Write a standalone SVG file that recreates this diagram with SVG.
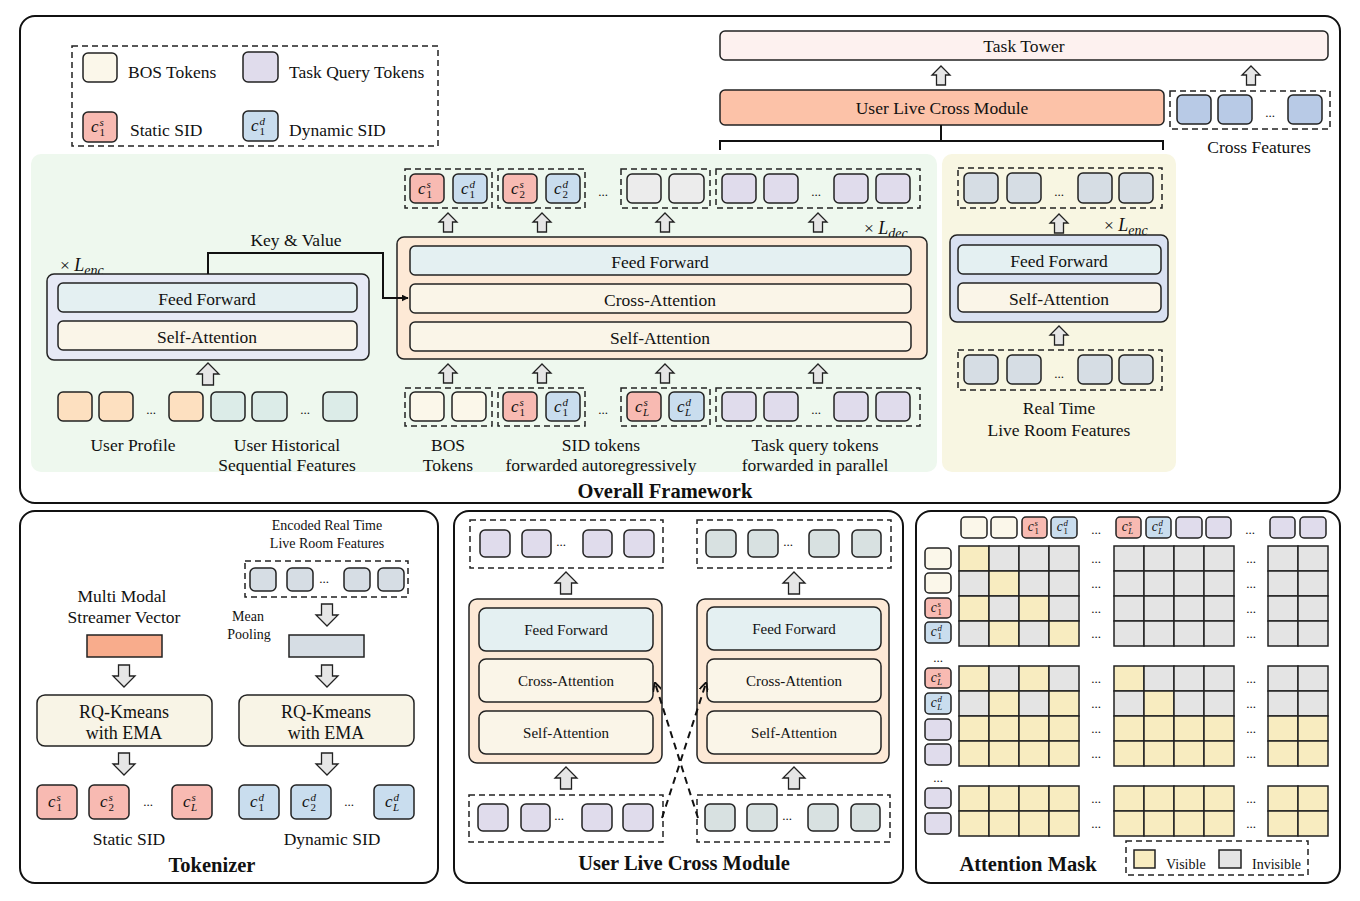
<svg xmlns="http://www.w3.org/2000/svg" xmlns:xlink="http://www.w3.org/1999/xlink" width="1360" height="901" viewBox="0 0 1360 901">
<style>
text{font-family:"Liberation Serif","Times New Roman",serif;fill:#111}
.t{font-size:17.5px}
.tc{font-size:17.5px;text-anchor:middle}
.s15{font-size:15px;text-anchor:middle}
.s14{font-size:14px;text-anchor:middle}
.s18{font-size:18px;text-anchor:middle}
.title{font-size:20.5px;font-weight:bold;text-anchor:middle}
.dots{font-size:13px;text-anchor:middle}
.mi{font-size:17px;font-style:italic}
.ms{font-size:11px;font-style:italic}
.mn{font-size:11px}
.frame{fill:#fff;stroke:#111;stroke-width:2}
.box{stroke:#222;stroke-width:1.5}
.tok{stroke:#222;stroke-width:1.5}
.dash{fill:none;stroke:#222;stroke-width:1.5;stroke-dasharray:6 4}
.ar{fill:#e6e6e6;stroke:#222;stroke-width:1.3}
.bos{fill:#fbf7ea}.tq{fill:#e0dcec}.ss{fill:#f8bab2}.ds{fill:#c9ddee}.gr{fill:#ececec}
.pro{fill:#fde0c0}.hist{fill:#dcece8}.live{fill:#d6dde4}.cf{fill:#b8cae6}.ulr{fill:#d8e1e1}
.ff{fill:#e4f0f2}.at{fill:#faf5e8}
.v{fill:#f8ecc0;stroke:#222;stroke-width:1.5}
.g{fill:#e4e4e4;stroke:#222;stroke-width:1.5}
.ln{fill:none;stroke:#111;stroke-width:2}
.dl{fill:none;stroke:#111;stroke-width:2;stroke-dasharray:7 5}
</style>
<defs>
<path id="ua" class="ar" d="M0,0 L9,9 L4.5,9 L4.5,19 L-4.5,19 L-4.5,9 L-9,9 Z"/>
<path id="ub" class="ar" d="M0,0 L11,11 L5.5,11 L5.5,22 L-5.5,22 L-5.5,11 L-11,11 Z"/>
<path id="db" class="ar" d="M-5.5,0 L5.5,0 L5.5,11 L11,11 L0,22 L-11,11 L-5.5,11 Z"/>
<g id="m1s"><text class="mi" x="-9" y="5">c</text><text class="ms" x="-0.5" y="-1.5">s</text><text class="mn" x="-0.5" y="8.5">1</text></g>
<g id="m1d"><text class="mi" x="-9" y="5">c</text><text class="ms" x="-0.5" y="-1.5">d</text><text class="mn" x="-0.5" y="8.5">1</text></g>
<g id="m2s"><text class="mi" x="-9" y="5">c</text><text class="ms" x="-0.5" y="-1.5">s</text><text class="mn" x="-0.5" y="8.5">2</text></g>
<g id="m2d"><text class="mi" x="-9" y="5">c</text><text class="ms" x="-0.5" y="-1.5">d</text><text class="mn" x="-0.5" y="8.5">2</text></g>
<g id="mLs"><text class="mi" x="-9" y="5">c</text><text class="ms" x="-0.5" y="-1.5">s</text><text class="ms" x="-1" y="8.5">L</text></g>
<g id="mLd"><text class="mi" x="-9" y="5">c</text><text class="ms" x="-0.5" y="-1.5">d</text><text class="ms" x="-1" y="8.5">L</text></g>
<marker id="ah" viewBox="0 0 10 10" refX="9" refY="5" markerWidth="7" markerHeight="7" orient="auto" markerUnits="userSpaceOnUse"><path d="M0,0 L10,5 L0,10 Z" fill="#111"/></marker>
<marker id="ah2" viewBox="0 0 10 10" refX="9" refY="5" markerWidth="9" markerHeight="9" orient="auto" markerUnits="userSpaceOnUse"><path d="M0,0 L10,5 L0,10" fill="none" stroke="#111" stroke-width="2"/></marker>
</defs>

<!-- ===================== OVERALL FRAMEWORK ===================== -->
<g id="overall-frame">
<rect class="frame" x="20" y="16" width="1320" height="487" rx="15"/>
<rect x="31" y="154" width="906" height="318" rx="10" fill="#eef8ee"/>
<rect x="942" y="154" width="234" height="318" rx="10" fill="#f8f6e2"/>
<text class="title" x="665" y="498">Overall Framework</text>
</g>

<g id="legend">
<rect class="dash" x="72" y="46" width="366" height="100"/>
<rect class="tok bos" x="83" y="53" width="34" height="29" rx="5"/>
<text class="t" x="128" y="78">BOS Tokens</text>
<rect class="tok tq" x="243" y="52" width="35" height="30" rx="5"/>
<text class="t" x="289" y="78">Task Query Tokens</text>
<rect class="tok ss" x="83" y="112" width="34" height="30" rx="5"/>
<use xlink:href="#m1s" href="#m1s" x="100" y="127"/>
<text class="t" x="130" y="136">Static SID</text>
<rect class="tok ds" x="243" y="111" width="35" height="30" rx="5"/>
<use xlink:href="#m1d" href="#m1d" x="260" y="126"/>
<text class="t" x="289" y="136">Dynamic SID</text>
</g>

<g id="task-tower">
<rect class="box" x="720" y="31" width="608" height="29" rx="5" fill="#fdf1ef"/>
<text class="tc" x="1024" y="52">Task Tower</text>
</g>

<g id="ulcm-top">
<rect class="box" x="720" y="90" width="444" height="35" rx="5" fill="#fcc2a8"/>
<text class="tc" x="942" y="114">User Live Cross Module</text>
</g>

<g id="cross-features">
<rect class="dash" x="1170" y="91" width="160" height="38"/>
<rect class="tok cf" x="1177" y="95" width="34" height="29" rx="5"/>
<rect class="tok cf" x="1218" y="95" width="34" height="29" rx="5"/>
<text class="dots" x="1270" y="117">...</text>
<rect class="tok cf" x="1288" y="95" width="34" height="29" rx="5"/>
<text class="tc" x="1259" y="153">Cross Features</text>
</g>

<g id="encoder-user">
<text class="t" x="60" y="271">× <tspan font-style="italic" font-size="18">L</tspan><tspan font-style="italic" font-size="14" dy="4">enc</tspan></text>
<rect class="box" x="47" y="274" width="322" height="86" rx="7" fill="#e6e9f5"/>
<rect class="box ff" x="58" y="283" width="299" height="29" rx="5"/>
<text class="tc" x="207" y="305">Feed Forward</text>
<rect class="box at" x="58" y="321" width="299" height="29" rx="5"/>
<text class="tc" x="207" y="343">Self-Attention</text>
</g>

<g id="user-inputs">
<rect class="tok pro" x="58" y="392" width="34" height="29" rx="5"/>
<rect class="tok pro" x="99" y="392" width="34" height="29" rx="5"/>
<text class="dots" x="151" y="414">...</text>
<rect class="tok pro" x="169" y="392" width="34" height="29" rx="5"/>
<rect class="tok hist" x="211" y="392" width="34" height="29" rx="5"/>
<rect class="tok hist" x="252" y="392" width="35" height="29" rx="5"/>
<text class="dots" x="305" y="414">...</text>
<rect class="tok hist" x="323" y="392" width="34" height="29" rx="5"/>
<text class="tc" x="133" y="451">User Profile</text>
<text class="tc" x="287" y="451">User Historical</text>
<text class="tc" x="287" y="471">Sequential Features</text>
</g>

<g id="decoder">
<text class="t" x="864" y="234">× <tspan font-style="italic" font-size="18">L</tspan><tspan font-style="italic" font-size="14" dy="4">dec</tspan></text>
<rect class="box" x="397" y="237" width="530" height="122" rx="7" fill="#fde9d6"/>
<rect class="box ff" x="410" y="246" width="501" height="29" rx="5"/>
<text class="tc" x="660" y="268">Feed Forward</text>
<rect class="box at" x="410" y="284" width="501" height="29" rx="5"/>
<text class="tc" x="660" y="306">Cross-Attention</text>
<rect class="box at" x="410" y="322" width="501" height="29" rx="5"/>
<text class="tc" x="660" y="344">Self-Attention</text>
</g>

<g id="decoder-outputs">
<rect class="dash" x="405" y="169" width="87" height="39"/>
<rect class="tok ss" x="410" y="174" width="34" height="29" rx="5"/><use xlink:href="#m1s" href="#m1s" x="427" y="189"/>
<rect class="tok ds" x="453" y="174" width="34" height="29" rx="5"/><use xlink:href="#m1d" href="#m1d" x="470" y="189"/>
<rect class="dash" x="498" y="169" width="87" height="39"/>
<rect class="tok ss" x="503" y="174" width="34" height="29" rx="5"/><use xlink:href="#m2s" href="#m2s" x="520" y="189"/>
<rect class="tok ds" x="546" y="174" width="34" height="29" rx="5"/><use xlink:href="#m2d" href="#m2d" x="563" y="189"/>
<text class="dots" x="603" y="196">...</text>
<rect class="dash" x="621" y="169" width="89" height="39"/>
<rect class="tok gr" x="627" y="174" width="34" height="29" rx="5"/>
<rect class="tok gr" x="669" y="174" width="35" height="29" rx="5"/>
<rect class="dash" x="716" y="169" width="204" height="39"/>
<rect class="tok tq" x="722" y="174" width="34" height="29" rx="5"/>
<rect class="tok tq" x="764" y="174" width="34" height="29" rx="5"/>
<text class="dots" x="816" y="196">...</text>
<rect class="tok tq" x="834" y="174" width="34" height="29" rx="5"/>
<rect class="tok tq" x="876" y="174" width="34" height="29" rx="5"/>
</g>

<g id="decoder-inputs">
<rect class="dash" x="405" y="388" width="87" height="38"/>
<rect class="tok bos" x="410" y="392" width="34" height="29" rx="5"/>
<rect class="tok bos" x="452" y="392" width="34" height="29" rx="5"/>
<rect class="dash" x="498" y="388" width="87" height="38"/>
<rect class="tok ss" x="503" y="392" width="34" height="29" rx="5"/><use xlink:href="#m1s" href="#m1s" x="520" y="407"/>
<rect class="tok ds" x="546" y="392" width="34" height="29" rx="5"/><use xlink:href="#m1d" href="#m1d" x="563" y="407"/>
<text class="dots" x="603" y="414">...</text>
<rect class="dash" x="621" y="388" width="89" height="38"/>
<rect class="tok ss" x="627" y="392" width="34" height="29" rx="5"/><use xlink:href="#mLs" href="#mLs" x="644" y="407"/>
<rect class="tok ds" x="669" y="392" width="35" height="29" rx="5"/><use xlink:href="#mLd" href="#mLd" x="686" y="407"/>
<rect class="dash" x="716" y="388" width="204" height="38"/>
<rect class="tok tq" x="722" y="392" width="34" height="29" rx="5"/>
<rect class="tok tq" x="764" y="392" width="34" height="29" rx="5"/>
<text class="dots" x="816" y="414">...</text>
<rect class="tok tq" x="834" y="392" width="34" height="29" rx="5"/>
<rect class="tok tq" x="876" y="392" width="34" height="29" rx="5"/>
<text class="tc" x="448" y="451">BOS</text>
<text class="tc" x="448" y="471">Tokens</text>
<text class="tc" x="601" y="451">SID tokens</text>
<text class="tc" x="601" y="471">forwarded autoregressively</text>
<text class="tc" x="815" y="451">Task query tokens</text>
<text class="tc" x="815" y="471">forwarded in parallel</text>
</g>

<g id="encoder-live">
<rect class="dash" x="958" y="168" width="204" height="40"/>
<rect class="tok live" x="964" y="173" width="34" height="30" rx="5"/>
<rect class="tok live" x="1007" y="173" width="34" height="30" rx="5"/>
<text class="dots" x="1059" y="196">...</text>
<rect class="tok live" x="1078" y="173" width="34" height="30" rx="5"/>
<rect class="tok live" x="1119" y="173" width="34" height="30" rx="5"/>
<text class="t" x="1104" y="231">× <tspan font-style="italic" font-size="18">L</tspan><tspan font-style="italic" font-size="14" dy="4">enc</tspan></text>
<rect class="box" x="950" y="235" width="218" height="87" rx="7" fill="#d9e1f1"/>
<rect class="box ff" x="958" y="245" width="203" height="29" rx="5"/>
<text class="tc" x="1059" y="267">Feed Forward</text>
<rect class="box at" x="958" y="283" width="203" height="29" rx="5"/>
<text class="tc" x="1059" y="305">Self-Attention</text>
<rect class="dash" x="958" y="350" width="204" height="40"/>
<rect class="tok live" x="964" y="355" width="34" height="29" rx="5"/>
<rect class="tok live" x="1007" y="355" width="34" height="29" rx="5"/>
<text class="dots" x="1059" y="378">...</text>
<rect class="tok live" x="1078" y="355" width="34" height="29" rx="5"/>
<rect class="tok live" x="1119" y="355" width="34" height="29" rx="5"/>
<text class="tc" x="1059" y="414">Real Time</text>
<text class="tc" x="1059" y="436">Live Room Features</text>
</g>

<!-- ===================== TOKENIZER ===================== -->
<g id="tokenizer">
<rect class="frame" x="20" y="511" width="418" height="372" rx="15"/>
<text class="s14" x="327" y="530">Encoded Real Time</text>
<text class="s14" x="327" y="548">Live Room Features</text>
<rect class="dash" x="245" y="561" width="163" height="36"/>
<rect class="tok live" x="250" y="568" width="26" height="23" rx="5"/>
<rect class="tok live" x="287" y="568" width="26" height="23" rx="5"/>
<text class="dots" x="324" y="583">...</text>
<rect class="tok live" x="344" y="568" width="26" height="23" rx="5"/>
<rect class="tok live" x="378" y="568" width="26" height="23" rx="5"/>
<text class="tc" x="122" y="602">Multi Modal</text>
<text class="tc" x="124" y="623">Streamer Vector</text>
<rect class="box" x="87" y="635" width="75" height="22" fill="#f8ac8c"/>
<text class="s14" x="248" y="621">Mean</text>
<text class="s14" x="249" y="639">Pooling</text>
<rect class="box" x="289" y="635" width="75" height="22" fill="#d6dde4"/>
<rect class="box" x="37" y="695" width="175" height="51" rx="8" fill="#f8f4e6"/>
<text class="s18" x="124" y="718">RQ-Kmeans</text>
<text class="s18" x="124" y="739">with EMA</text>
<rect class="box" x="239" y="695" width="175" height="51" rx="8" fill="#f8f4e6"/>
<text class="s18" x="326" y="718">RQ-Kmeans</text>
<text class="s18" x="326" y="739">with EMA</text>
<rect class="tok ss" x="37" y="785" width="40" height="34" rx="5"/><use xlink:href="#m1s" href="#m1s" x="57" y="802"/>
<rect class="tok ss" x="89" y="785" width="40" height="34" rx="5"/><use xlink:href="#m2s" href="#m2s" x="109" y="802"/>
<text class="dots" x="148" y="806">...</text>
<rect class="tok ss" x="172" y="785" width="40" height="34" rx="5"/><use xlink:href="#mLs" href="#mLs" x="192" y="802"/>
<rect class="tok ds" x="239" y="785" width="40" height="34" rx="5"/><use xlink:href="#m1d" href="#m1d" x="259" y="802"/>
<rect class="tok ds" x="291" y="785" width="40" height="34" rx="5"/><use xlink:href="#m2d" href="#m2d" x="311" y="802"/>
<text class="dots" x="349" y="806">...</text>
<rect class="tok ds" x="374" y="785" width="40" height="34" rx="5"/><use xlink:href="#mLd" href="#mLd" x="394" y="802"/>
<text class="tc" x="129" y="845">Static SID</text>
<text class="tc" x="332" y="845">Dynamic SID</text>
<text class="title" x="212" y="872">Tokenizer</text>
</g>

<!-- ===================== USER LIVE CROSS MODULE ===================== -->
<g id="user-live-cross-module">
<rect class="frame" x="454" y="511" width="449" height="372" rx="15"/>
<rect class="dash" x="470" y="520" width="193" height="48"/>
<rect class="tok tq" x="480" y="530" width="30" height="27" rx="5"/>
<rect class="tok tq" x="522" y="530" width="29" height="27" rx="5"/>
<text class="dots" x="561" y="546">...</text>
<rect class="tok tq" x="583" y="530" width="29" height="27" rx="5"/>
<rect class="tok tq" x="624" y="530" width="30" height="27" rx="5"/>
<rect class="dash" x="697" y="520" width="194" height="48"/>
<rect class="tok ulr" x="706" y="530" width="30" height="27" rx="5"/>
<rect class="tok ulr" x="748" y="530" width="30" height="27" rx="5"/>
<text class="dots" x="788" y="546">...</text>
<rect class="tok ulr" x="809" y="530" width="30" height="27" rx="5"/>
<rect class="tok ulr" x="852" y="530" width="29" height="27" rx="5"/>
<rect class="box" x="469" y="599" width="193" height="164" rx="8" fill="#fde9d6"/>
<rect class="box ff" x="479" y="608" width="174" height="43" rx="7"/>
<text class="s15" x="566" y="635">Feed Forward</text>
<rect class="box at" x="479" y="659" width="174" height="43" rx="7"/>
<text class="s15" x="566" y="686">Cross-Attention</text>
<rect class="box at" x="479" y="711" width="174" height="43" rx="7"/>
<text class="s15" x="566" y="738">Self-Attention</text>
<rect class="box" x="697" y="599" width="192" height="164" rx="8" fill="#fde9d6"/>
<rect class="box ff" x="707" y="607" width="174" height="43" rx="7"/>
<text class="s15" x="794" y="634">Feed Forward</text>
<rect class="box at" x="707" y="659" width="174" height="43" rx="7"/>
<text class="s15" x="794" y="686">Cross-Attention</text>
<rect class="box at" x="707" y="711" width="174" height="43" rx="7"/>
<text class="s15" x="794" y="738">Self-Attention</text>
<rect class="dash" x="469" y="795" width="194" height="47"/>
<rect class="tok tq" x="478" y="804" width="30" height="27" rx="5"/>
<rect class="tok tq" x="521" y="804" width="29" height="27" rx="5"/>
<text class="dots" x="559" y="820">...</text>
<rect class="tok tq" x="582" y="804" width="30" height="27" rx="5"/>
<rect class="tok tq" x="623" y="804" width="30" height="27" rx="5"/>
<rect class="dash" x="697" y="795" width="193" height="47"/>
<rect class="tok ulr" x="705" y="804" width="30" height="27" rx="5"/>
<rect class="tok ulr" x="747" y="804" width="30" height="27" rx="5"/>
<text class="dots" x="787" y="820">...</text>
<rect class="tok ulr" x="808" y="804" width="30" height="27" rx="5"/>
<rect class="tok ulr" x="851" y="804" width="29" height="27" rx="5"/>
<text class="title" x="684" y="870">User Live Cross Module</text>
</g>

<!-- ===================== ATTENTION MASK ===================== -->
<g id="attention-mask">
<rect class="frame" x="916" y="511" width="424" height="372" rx="15"/>
<rect class="tok bos" x="961" y="517" width="26" height="21" rx="4"/>
<rect class="tok bos" x="991" y="517" width="26" height="21" rx="4"/>
<rect class="tok ss" x="1022" y="517" width="25" height="21" rx="4"/><use xlink:href="#m1s" href="#m1s" transform="translate(1035,527) scale(0.8)"/>
<rect class="tok ds" x="1051" y="517" width="26" height="21" rx="4"/><use xlink:href="#m1d" href="#m1d" transform="translate(1064,527) scale(0.8)"/>
<text class="dots" x="1096" y="534">...</text>
<rect class="tok ss" x="1116" y="517" width="25" height="21" rx="4"/><use xlink:href="#mLs" href="#mLs" transform="translate(1129,527) scale(0.8)"/>
<rect class="tok ds" x="1146" y="517" width="25" height="21" rx="4"/><use xlink:href="#mLd" href="#mLd" transform="translate(1159,527) scale(0.8)"/>
<rect class="tok tq" x="1176" y="517" width="26" height="21" rx="4"/>
<rect class="tok tq" x="1206" y="517" width="25" height="21" rx="4"/>
<text class="dots" x="1250" y="534">...</text>
<rect class="tok tq" x="1270" y="517" width="25" height="21" rx="4"/>
<rect class="tok tq" x="1300" y="517" width="26" height="21" rx="4"/>
<rect class="tok bos" x="925" y="548" width="26" height="21" rx="4"/>
<rect class="tok bos" x="925" y="573" width="26" height="20" rx="4"/>
<rect class="tok ss" x="925" y="598" width="26" height="20" rx="4"/><use xlink:href="#m1s" href="#m1s" transform="translate(938,608) scale(0.8)"/>
<rect class="tok ds" x="925" y="622" width="26" height="21" rx="4"/><use xlink:href="#m1d" href="#m1d" transform="translate(938,632) scale(0.8)"/>
<text class="dots" x="938" y="662">...</text>
<rect class="tok ss" x="925" y="668" width="26" height="20" rx="4"/><use xlink:href="#mLs" href="#mLs" transform="translate(938,678) scale(0.8)"/>
<rect class="tok ds" x="925" y="693" width="26" height="21" rx="4"/><use xlink:href="#mLd" href="#mLd" transform="translate(938,703) scale(0.8)"/>
<rect class="tok tq" x="925" y="719" width="26" height="21" rx="4"/>
<rect class="tok tq" x="925" y="744" width="26" height="21" rx="4"/>
<text class="dots" x="938" y="782">...</text>
<rect class="tok tq" x="925" y="788" width="26" height="20" rx="4"/>
<rect class="tok tq" x="925" y="813" width="26" height="21" rx="4"/>
<rect class="v" x="959" y="546" width="30" height="25"/><rect class="g" x="989" y="546" width="30" height="25"/><rect class="g" x="1019" y="546" width="30" height="25"/><rect class="g" x="1049" y="546" width="30" height="25"/>
<rect class="g" x="959" y="571" width="30" height="25"/><rect class="v" x="989" y="571" width="30" height="25"/><rect class="g" x="1019" y="571" width="30" height="25"/><rect class="g" x="1049" y="571" width="30" height="25"/>
<rect class="v" x="959" y="596" width="30" height="25"/><rect class="g" x="989" y="596" width="30" height="25"/><rect class="v" x="1019" y="596" width="30" height="25"/><rect class="g" x="1049" y="596" width="30" height="25"/>
<rect class="g" x="959" y="621" width="30" height="25"/><rect class="v" x="989" y="621" width="30" height="25"/><rect class="g" x="1019" y="621" width="30" height="25"/><rect class="v" x="1049" y="621" width="30" height="25"/>
<rect class="g" x="1114" y="546" width="30" height="25"/><rect class="g" x="1144" y="546" width="30" height="25"/><rect class="g" x="1174" y="546" width="30" height="25"/><rect class="g" x="1204" y="546" width="30" height="25"/>
<rect class="g" x="1114" y="571" width="30" height="25"/><rect class="g" x="1144" y="571" width="30" height="25"/><rect class="g" x="1174" y="571" width="30" height="25"/><rect class="g" x="1204" y="571" width="30" height="25"/>
<rect class="g" x="1114" y="596" width="30" height="25"/><rect class="g" x="1144" y="596" width="30" height="25"/><rect class="g" x="1174" y="596" width="30" height="25"/><rect class="g" x="1204" y="596" width="30" height="25"/>
<rect class="g" x="1114" y="621" width="30" height="25"/><rect class="g" x="1144" y="621" width="30" height="25"/><rect class="g" x="1174" y="621" width="30" height="25"/><rect class="g" x="1204" y="621" width="30" height="25"/>
<rect class="g" x="1268" y="546" width="30" height="25"/><rect class="g" x="1298" y="546" width="30" height="25"/>
<rect class="g" x="1268" y="571" width="30" height="25"/><rect class="g" x="1298" y="571" width="30" height="25"/>
<rect class="g" x="1268" y="596" width="30" height="25"/><rect class="g" x="1298" y="596" width="30" height="25"/>
<rect class="g" x="1268" y="621" width="30" height="25"/><rect class="g" x="1298" y="621" width="30" height="25"/>
<rect class="v" x="959" y="666" width="30" height="25"/><rect class="g" x="989" y="666" width="30" height="25"/><rect class="v" x="1019" y="666" width="30" height="25"/><rect class="g" x="1049" y="666" width="30" height="25"/>
<rect class="g" x="959" y="691" width="30" height="25"/><rect class="v" x="989" y="691" width="30" height="25"/><rect class="g" x="1019" y="691" width="30" height="25"/><rect class="v" x="1049" y="691" width="30" height="25"/>
<rect class="v" x="959" y="716" width="30" height="25"/><rect class="v" x="989" y="716" width="30" height="25"/><rect class="v" x="1019" y="716" width="30" height="25"/><rect class="v" x="1049" y="716" width="30" height="25"/>
<rect class="v" x="959" y="741" width="30" height="25"/><rect class="v" x="989" y="741" width="30" height="25"/><rect class="v" x="1019" y="741" width="30" height="25"/><rect class="v" x="1049" y="741" width="30" height="25"/>
<rect class="v" x="1114" y="666" width="30" height="25"/><rect class="g" x="1144" y="666" width="30" height="25"/><rect class="g" x="1174" y="666" width="30" height="25"/><rect class="g" x="1204" y="666" width="30" height="25"/>
<rect class="g" x="1114" y="691" width="30" height="25"/><rect class="v" x="1144" y="691" width="30" height="25"/><rect class="g" x="1174" y="691" width="30" height="25"/><rect class="g" x="1204" y="691" width="30" height="25"/>
<rect class="v" x="1114" y="716" width="30" height="25"/><rect class="v" x="1144" y="716" width="30" height="25"/><rect class="v" x="1174" y="716" width="30" height="25"/><rect class="v" x="1204" y="716" width="30" height="25"/>
<rect class="v" x="1114" y="741" width="30" height="25"/><rect class="v" x="1144" y="741" width="30" height="25"/><rect class="v" x="1174" y="741" width="30" height="25"/><rect class="v" x="1204" y="741" width="30" height="25"/>
<rect class="g" x="1268" y="666" width="30" height="25"/><rect class="g" x="1298" y="666" width="30" height="25"/>
<rect class="g" x="1268" y="691" width="30" height="25"/><rect class="g" x="1298" y="691" width="30" height="25"/>
<rect class="v" x="1268" y="716" width="30" height="25"/><rect class="v" x="1298" y="716" width="30" height="25"/>
<rect class="v" x="1268" y="741" width="30" height="25"/><rect class="v" x="1298" y="741" width="30" height="25"/>
<rect class="v" x="959" y="786" width="30" height="25"/><rect class="v" x="989" y="786" width="30" height="25"/><rect class="v" x="1019" y="786" width="30" height="25"/><rect class="v" x="1049" y="786" width="30" height="25"/>
<rect class="v" x="959" y="811" width="30" height="25"/><rect class="v" x="989" y="811" width="30" height="25"/><rect class="v" x="1019" y="811" width="30" height="25"/><rect class="v" x="1049" y="811" width="30" height="25"/>
<rect class="v" x="1114" y="786" width="30" height="25"/><rect class="v" x="1144" y="786" width="30" height="25"/><rect class="v" x="1174" y="786" width="30" height="25"/><rect class="v" x="1204" y="786" width="30" height="25"/>
<rect class="v" x="1114" y="811" width="30" height="25"/><rect class="v" x="1144" y="811" width="30" height="25"/><rect class="v" x="1174" y="811" width="30" height="25"/><rect class="v" x="1204" y="811" width="30" height="25"/>
<rect class="v" x="1268" y="786" width="30" height="25"/><rect class="v" x="1298" y="786" width="30" height="25"/>
<rect class="v" x="1268" y="811" width="30" height="25"/><rect class="v" x="1298" y="811" width="30" height="25"/>
<text class="dots" x="1096" y="563">...</text><text class="dots" x="1251" y="563">...</text>
<text class="dots" x="1096" y="588">...</text><text class="dots" x="1251" y="588">...</text>
<text class="dots" x="1096" y="613">...</text><text class="dots" x="1251" y="613">...</text>
<text class="dots" x="1096" y="638">...</text><text class="dots" x="1251" y="638">...</text>
<text class="dots" x="1096" y="683">...</text><text class="dots" x="1251" y="683">...</text>
<text class="dots" x="1096" y="708">...</text><text class="dots" x="1251" y="708">...</text>
<text class="dots" x="1096" y="733">...</text><text class="dots" x="1251" y="733">...</text>
<text class="dots" x="1096" y="758">...</text><text class="dots" x="1251" y="758">...</text>
<text class="dots" x="1096" y="803">...</text><text class="dots" x="1251" y="803">...</text>
<text class="dots" x="1096" y="828">...</text><text class="dots" x="1251" y="828">...</text>
<rect class="dash" x="1126" y="841" width="182" height="34"/>
<rect class="v" x="1134" y="850" width="21" height="18"/>
<text x="1166" y="869" font-size="14">Visible</text>
<rect class="g" x="1219" y="850" width="22" height="18"/>
<text x="1252" y="869" font-size="14">Invisible</text>
<text class="title" x="1028" y="871">Attention Mask</text>
</g>

<g id="connectors">
<path class="ln" d="M208,274 V253 H383 V298 H408" marker-end="url(#ah)" stroke-width="1.8"/>
<text class="tc" x="296" y="246">Key &amp; Value</text>
<path class="ln" d="M720,150 V141 H1163 V150 M941,141 V125"/>
<use xlink:href="#ua" href="#ua" x="941" y="66"/>
<use xlink:href="#ua" href="#ua" x="1251" y="66"/>
<use xlink:href="#ua" href="#ua" x="448" y="213"/>
<use xlink:href="#ua" href="#ua" x="542" y="213"/>
<use xlink:href="#ua" href="#ua" x="665" y="213"/>
<use xlink:href="#ua" href="#ua" x="818" y="213"/>
<use xlink:href="#ua" href="#ua" x="448" y="364"/>
<use xlink:href="#ua" href="#ua" x="542" y="364"/>
<use xlink:href="#ua" href="#ua" x="665" y="364"/>
<use xlink:href="#ua" href="#ua" x="818" y="364"/>
<use xlink:href="#ub" href="#ub" x="208" y="363"/>
<use xlink:href="#ua" href="#ua" x="1059" y="214"/>
<use xlink:href="#ua" href="#ua" x="1059" y="326"/>
<use xlink:href="#db" href="#db" x="327" y="604"/>
<use xlink:href="#db" href="#db" x="124" y="665"/>
<use xlink:href="#db" href="#db" x="327" y="665"/>
<use xlink:href="#db" href="#db" x="124" y="753"/>
<use xlink:href="#db" href="#db" x="327" y="753"/>
<use xlink:href="#ub" href="#ub" x="566" y="572"/>
<use xlink:href="#ub" href="#ub" x="794" y="572"/>
<use xlink:href="#ub" href="#ub" x="566" y="767"/>
<use xlink:href="#ub" href="#ub" x="794" y="767"/>
<path class="dl" d="M662,818 L706,683" marker-end="url(#ah2)"/>
<path class="dl" d="M698,818 L655,683" marker-end="url(#ah2)"/>
</g>
</svg>
